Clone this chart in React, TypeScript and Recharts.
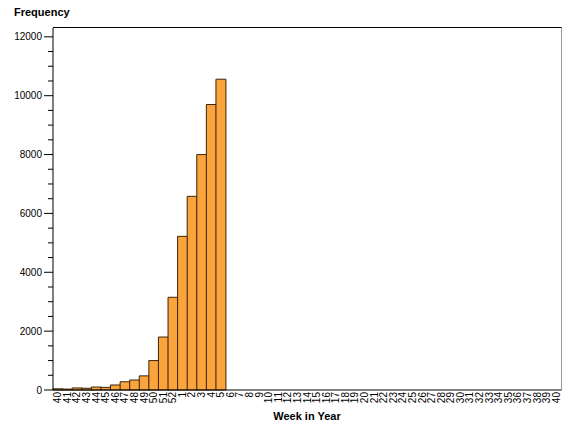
import { Bar, BarChart, XAxis, YAxis } from "recharts";

const weeks = [
  "40", "41", "42", "43", "44", "45", "46", "47", "48", "49", "50", "51", "52",
  "1", "2", "3", "4", "5", "6", "7", "8", "9", "10", "11", "12", "13", "14",
  "15", "16", "17", "18", "19", "20", "21", "22", "23", "24", "25", "26", "27",
  "28", "29", "30", "31", "32", "33", "34", "35", "36", "37", "38", "39", "40",
];

const counts = [
  40, 30, 70, 60, 100, 90, 170, 280, 340, 480, 1000, 1800, 3150,
  5220, 6580, 8000, 9700, 10560,
];

const yTicks = [
  0, 500, 1000, 1500, 2000, 2500, 3000, 3500, 4000, 4500, 5000, 5500, 6000,
  6500, 7000, 7500, 8000, 8500, 9000, 9500, 10000, 10500, 11000, 11500, 12000,
];

const data = weeks.map((w, i) => ({ key: i, week: w, freq: counts[i] ?? 0 }));

const font = "Arial, 'Liberation Sans', sans-serif";

function YTick({ x, y, payload }: any) {
  const major = payload.value % 2000 === 0;
  return (
    <g>
      <line x1={x - (major ? 9 : 5)} x2={x} y1={y} y2={y} stroke="#000" />
      {major && (
        <text x={x - 11} y={y} dy="0.35em" textAnchor="end" fontSize={10} fill="#000" fontFamily={font}>
          {payload.value}
        </text>
      )}
    </g>
  );
}

function XTick({ x, y, payload }: any) {
  return (
    <text
      transform={`translate(${x},${y + 2}) rotate(-90)`}
      dy="0.35em"
      textAnchor="end"
      fontSize={10}
      fill="#000"
      fontFamily={font}
    >
      {weeks[payload.value]}
    </text>
  );
}

export default function App() {
  return (
    <div style={{ position: "relative", margin: -8, width: 576, height: 432, background: "#fff", fontFamily: font }}>
      <div style={{ position: "absolute", left: 14, top: 6, fontSize: 11, fontWeight: "bold" }}>Frequency</div>
      <div style={{ position: "absolute", left: 0, width: 614, top: 410, fontSize: 11, fontWeight: "bold", textAlign: "center" }}>
        Week in Year
      </div>
      <BarChart
        width={576}
        height={432}
        data={data}
        margin={{ top: 28, right: 15, left: 0, bottom: 0 }}
        barCategoryGap={0}
        barGap={0}
      >
        <XAxis
          dataKey="key"
          interval={0}
          tick={<XTick />}
          tickLine={false}
          tickSize={0}
          tickMargin={0}
          height={42}
          axisLine={{ stroke: "#000" }}
        />
        <YAxis
          domain={[0, 12300]}
          ticks={yTicks}
          interval={0}
          tick={<YTick />}
          tickLine={false}
          tickSize={0}
          tickMargin={0}
          width={53}
          axisLine={{ stroke: "#000" }}
        />
        <Bar dataKey="freq" fill="#FBA43D" stroke="#3a2408" strokeWidth={1} isAnimationActive={false} />
      </BarChart>
      <div
        style={{
          position: "absolute",
          left: 53,
          top: 27,
          width: 508,
          height: 363,
          borderTop: "1.5px solid #000",
          borderRight: "1px solid #999",
          pointerEvents: "none",
        }}
      />
    </div>
  );
}
